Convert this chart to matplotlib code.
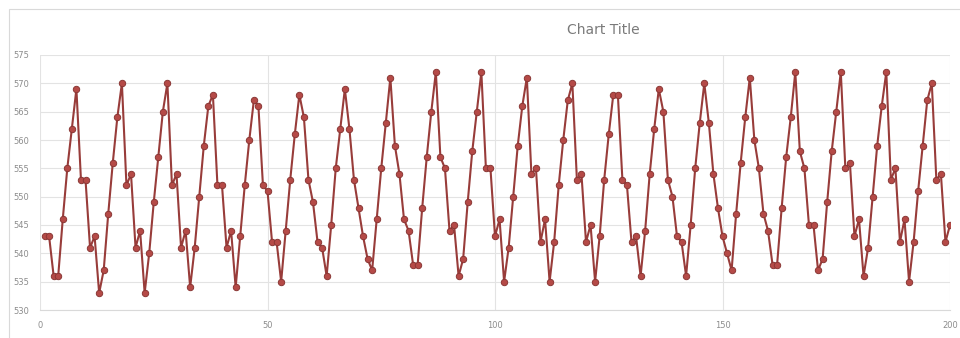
import matplotlib.pyplot as plt
import numpy as np

# values, one per sample 1..200
values = [543, 543, 536, 536, 546, 555, 562, 569, 553, 553,
          541, 543, 533, 537, 547, 556, 564, 570, 552, 554,
          541, 544, 533, 540, 549, 557, 565, 570, 552, 554,
          541, 544, 534, 541, 550, 559, 566, 568, 552, 552,
          541, 544, 534, 543, 552, 560, 567, 566, 552, 551,
          542, 542, 535, 544, 553, 561, 568, 564, 553, 549,
          542, 541, 536, 545, 555, 562, 569, 562, 553, 548,
          543, 539, 537, 546, 555, 563, 571, 559, 554, 546,
          544, 538, 538, 548, 557, 565, 572, 557, 555, 544,
          545, 536, 539, 549, 558, 565, 572, 555, 555, 543,
          546, 535, 541, 550, 559, 566, 571, 554, 555, 542,
          546, 535, 542, 552, 560, 567, 570, 553, 554, 542,
          545, 535, 543, 553, 561, 568, 568, 553, 552, 542,
          543, 536, 544, 554, 562, 569, 565, 553, 550, 543,
          542, 536, 545, 555, 563, 570, 563, 554, 548, 543,
          540, 537, 547, 556, 564, 571, 560, 555, 547, 544,
          538, 538, 548, 557, 564, 572, 558, 555, 545, 545,
          537, 539, 549, 558, 565, 572, 555, 556, 543, 546,
          536, 541, 550, 559, 566, 572, 553, 555, 542, 546,
          535, 542, 551, 559, 567, 570, 553, 554, 542, 545]
samples = list(range(1, len(values) + 1))

y_ticks = [530, 535, 540, 545, 550, 555, 560, 565, 570, 575]
x_ticks = [0, 50, 100, 150, 200]

fig = plt.figure(figsize=(9.6, 3.38), dpi=100)
ax = fig.add_axes([40/960, 1 - 310/338, 910/960, 255/338])

ax.plot(samples, values, color='#983c3a', lw=1.5,
        marker='o', ms=4.6, mfc='#b54a47', mec='#8a3735', mew=0.7)

ax.set_xlim(0, 200)
ax.set_ylim(530, 575)
ax.set_xticks(x_ticks)
ax.set_yticks(y_ticks)
ax.tick_params(length=0, labelsize=6, colors='#8c8c8c', pad=8)
ax.grid(True, color='#e3e3e3', lw=0.8)
ax.set_axisbelow(True)
for s in ['top', 'right', 'left']:
    ax.spines[s].set_visible(False)
ax.spines['bottom'].set_color('#d9d9d9')

fig.text(603/960, 1 - 30/338, 'Chart Title', ha='center', va='center',
         fontsize=10, color='#7a7a7a')

# light frame round the chart
fig.patches.append(plt.Rectangle((9/960, -0.01), 1.0, 1 - 9/338 + 0.01,
                                 transform=fig.transFigure, fill=False,
                                 ec='#d9d9d9', lw=0.8))

fig.savefig('out.png', dpi=100)
